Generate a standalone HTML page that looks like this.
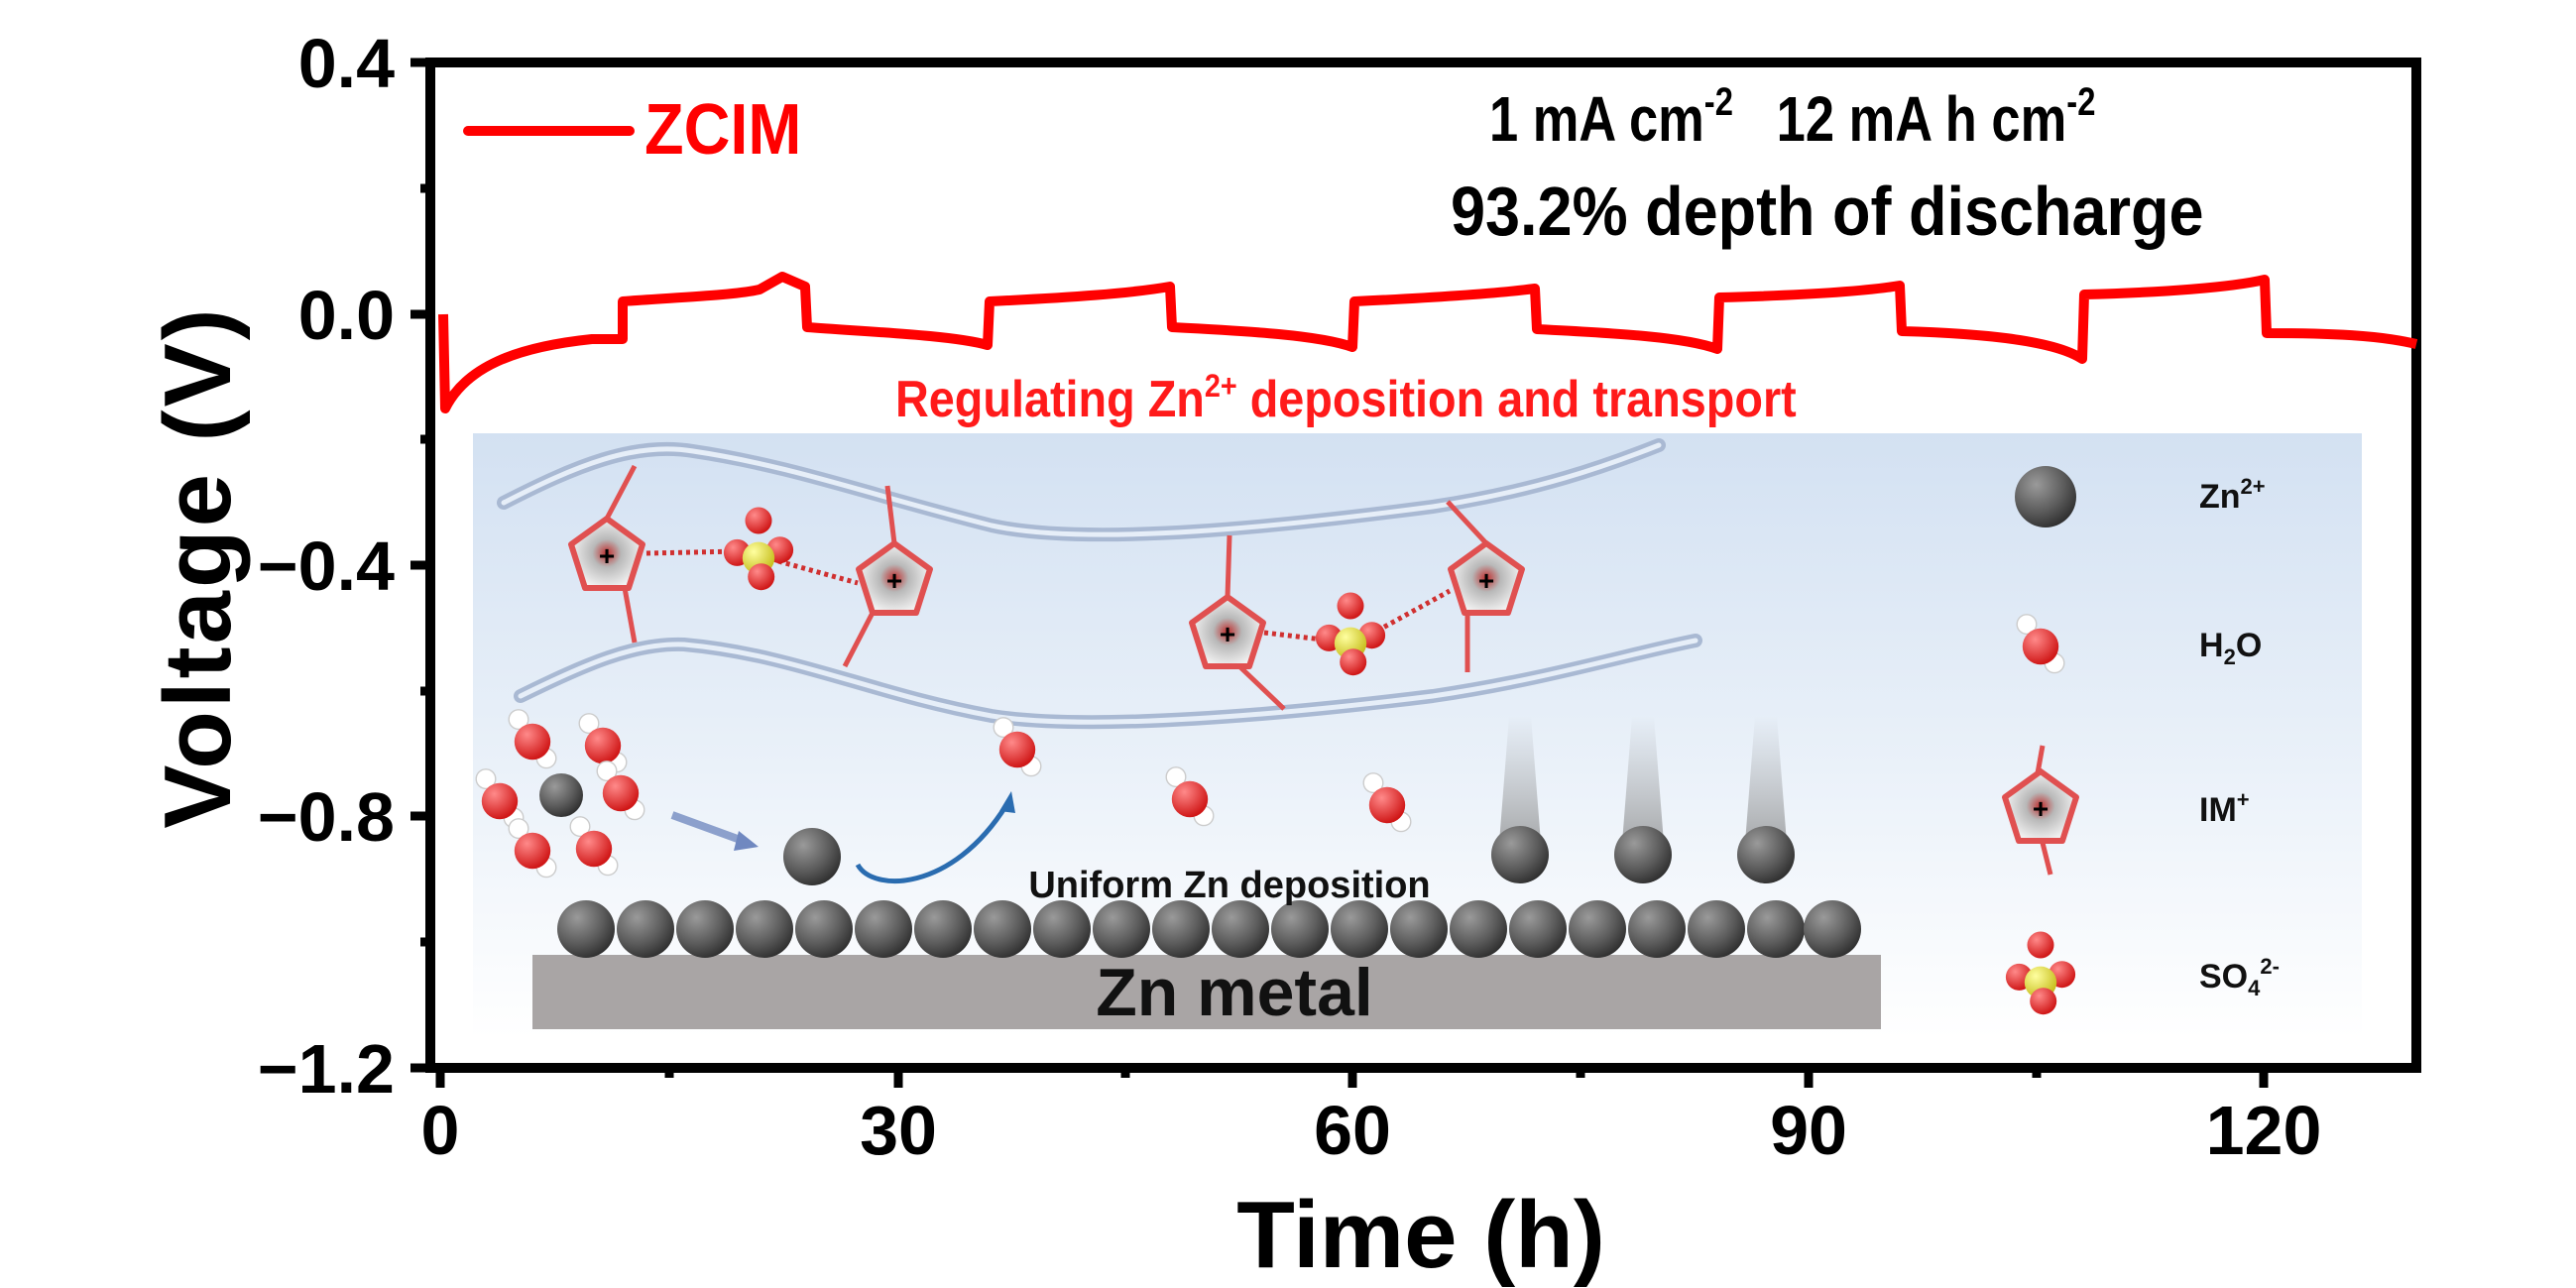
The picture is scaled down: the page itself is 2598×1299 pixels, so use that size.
<!DOCTYPE html>
<html><head><meta charset="utf-8"><style>
html,body{margin:0;padding:0;background:#fff;}
svg{display:block;}
text{font-family:"Liberation Sans",Arial,sans-serif;font-weight:bold;}
</style></head><body>
<svg width="2598" height="1299" viewBox="0 0 2598 1299" xmlns="http://www.w3.org/2000/svg">
<defs>
<linearGradient id="bg" x1="0" y1="0" x2="0" y2="1">
<stop offset="0" stop-color="#d3e1f2"/><stop offset="0.55" stop-color="#eaf1f9"/><stop offset="1" stop-color="#ffffff"/>
</linearGradient>
<radialGradient id="zn" cx="0.35" cy="0.3" r="0.75">
<stop offset="0" stop-color="#9a9a9a"/><stop offset="0.6" stop-color="#5c5c5c"/><stop offset="1" stop-color="#2e2e2e"/>
</radialGradient>
<radialGradient id="ox" cx="0.35" cy="0.3" r="0.7">
<stop offset="0" stop-color="#ff8a8a"/><stop offset="1" stop-color="#d01818"/>
</radialGradient>
<radialGradient id="su" cx="0.35" cy="0.3" r="0.7">
<stop offset="0" stop-color="#ffffa0"/><stop offset="1" stop-color="#c8c020"/>
</radialGradient>
<radialGradient id="ring" cx="0.5" cy="0.5" r="0.5">
<stop offset="0" stop-color="#c03030"/><stop offset="0.4" stop-color="#b8b8b8"/><stop offset="1" stop-color="#f0f0f0"/>
</radialGradient>
<linearGradient id="streak" x1="0" y1="0" x2="0" y2="1">
<stop offset="0" stop-color="#888" stop-opacity="0"/><stop offset="1" stop-color="#777" stop-opacity="0.6"/>
</linearGradient>
<g id="zb"><circle r="29" fill="url(#zn)"/></g>
<g id="h2o"><g transform="scale(1.4)"><circle cx="-10" cy="-16" r="7" fill="#fff" stroke="#ccc" stroke-width="1"/><circle cx="10" cy="12" r="7" fill="#fff" stroke="#ccc" stroke-width="1"/><circle r="13" fill="url(#ox)"/></g></g>
<g id="so4"><g transform="scale(1.35)"><circle cx="0" cy="-20" r="10" fill="url(#ox)"/><circle cx="-16" cy="4" r="10" fill="url(#ox)"/><circle cx="16" cy="2" r="10" fill="url(#ox)"/><circle cx="0" cy="8" r="12" fill="url(#su)"/><circle cx="2" cy="22" r="10" fill="url(#ox)"/></g></g>
<g id="im"><polygon points="0,-38 36,-12 22,32 -22,32 -36,-12" fill="url(#ring)" stroke="#e05050" stroke-width="6" stroke-linejoin="round"/><text x="0" y="9" font-size="28" text-anchor="middle" fill="#000">+</text></g>
</defs>

<rect x="477" y="437" width="1905" height="610" fill="url(#bg)"/>
<g fill="none" stroke-linecap="round">
<path d="M508,507 C580,470 640,445 699,455 C800,470 880,500 1000,530 C1100,552 1300,530 1445,511 C1550,495 1620,470 1673,449" stroke="#a9b9d3" stroke-width="14"/>
<path d="M508,507 C580,470 640,445 699,455 C800,470 880,500 1000,530 C1100,552 1300,530 1445,511 C1550,495 1620,470 1673,449" stroke="#e6eef8" stroke-width="5"/>
<path d="M525,702 C590,670 640,648 690,650 C800,660 880,700 1000,722 C1100,738 1300,720 1445,702 C1560,685 1640,660 1710,646" stroke="#a9b9d3" stroke-width="14"/>
<path d="M525,702 C590,670 640,648 690,650 C800,660 880,700 1000,722 C1100,738 1300,720 1445,702 C1560,685 1640,660 1710,646" stroke="#e6eef8" stroke-width="5"/>
</g>
<g stroke="#d03030" stroke-width="5" stroke-dasharray="4 4">
<line x1="652" y1="558" x2="745" y2="556"/><line x1="785" y1="566" x2="865" y2="588"/>
<line x1="1275" y1="638" x2="1342" y2="646"/><line x1="1382" y1="640" x2="1462" y2="596"/>
</g>
<g stroke="#e05050" stroke-width="5">
<line x1="612" y1="523" x2="640" y2="470"/><line x1="630" y1="593" x2="640" y2="648"/>
<line x1="902" y1="548" x2="895" y2="490"/><line x1="880" y1="618" x2="852" y2="672"/>
<line x1="1238" y1="602" x2="1240" y2="540"/><line x1="1250" y1="672" x2="1295" y2="715"/>
<line x1="1499" y1="548" x2="1460" y2="506"/><line x1="1480" y1="618" x2="1480" y2="678"/>
</g>
<use href="#im" x="612" y="561"/><use href="#im" x="902" y="586"/><use href="#im" x="1238" y="640"/><use href="#im" x="1499" y="586"/>
<use href="#so4" x="765" y="552"/><use href="#so4" x="1362" y="638"/>
<use href="#h2o" x="537" y="748"/><use href="#h2o" x="608" y="752"/><use href="#h2o" x="504" y="808"/><use href="#h2o" x="626" y="800"/><use href="#h2o" x="537" y="858"/><use href="#h2o" x="599" y="856"/>
<circle cx="566" cy="802" r="22" fill="url(#zn)"/>
<use href="#h2o" x="1026" y="756"/><use href="#h2o" x="1200" y="806"/><use href="#h2o" x="1399" y="812"/>
<path d="M678,822 L752,849" stroke="#8ca0cc" stroke-width="8" fill="none"/>
<polygon points="765,854 745,838 740,858" fill="#7088c0"/>
<use href="#zb" x="819" y="864"/>
<path d="M865,872 C880,900 960,900 1015,812" stroke="#2a6cb0" stroke-width="5" fill="none"/>
<polygon points="1020,798 1008,818 1024,820" fill="#2a6cb0"/>
<path d="M1512,850 L1522,722 L1544,722 L1554,850 Z" fill="url(#streak)"/>
<path d="M1636,850 L1646,722 L1668,722 L1678,850 Z" fill="url(#streak)"/>
<path d="M1760,850 L1770,722 L1792,722 L1802,850 Z" fill="url(#streak)"/>
<use href="#zb" x="1533" y="862"/><use href="#zb" x="1657" y="862"/><use href="#zb" x="1781" y="862"/>
<rect x="537" y="963" width="1360" height="75" fill="#a9a5a5"/>
<g>
<use href="#zb" x="591" y="937"/><use href="#zb" x="651" y="937"/><use href="#zb" x="711" y="937"/><use href="#zb" x="771" y="937"/><use href="#zb" x="831" y="937"/><use href="#zb" x="891" y="937"/><use href="#zb" x="951" y="937"/><use href="#zb" x="1011" y="937"/><use href="#zb" x="1071" y="937"/><use href="#zb" x="1131" y="937"/><use href="#zb" x="1191" y="937"/><use href="#zb" x="1251" y="937"/><use href="#zb" x="1311" y="937"/><use href="#zb" x="1371" y="937"/><use href="#zb" x="1431" y="937"/><use href="#zb" x="1491" y="937"/><use href="#zb" x="1551" y="937"/><use href="#zb" x="1611" y="937"/><use href="#zb" x="1671" y="937"/><use href="#zb" x="1731" y="937"/><use href="#zb" x="1791" y="937"/><use href="#zb" x="1848" y="937"/>
</g>
<text x="1245" y="1024" font-size="68" text-anchor="middle" fill="#111">Zn metal</text>
<text x="1240" y="905" font-size="38" text-anchor="middle" fill="#111">Uniform Zn deposition</text>
<circle cx="2063" cy="501" r="31" fill="url(#zn)"/>
<use href="#h2o" x="2058" y="652"/>
<line x1="2055" y1="780" x2="2060" y2="752" stroke="#e05050" stroke-width="5"/><line x1="2060" y1="850" x2="2068" y2="882" stroke="#e05050" stroke-width="5"/>
<use href="#im" x="2058" y="816"/>
<use href="#so4" x="2058" y="980"/>
<g font-size="34" fill="#111">
<text x="2218" y="512">Zn<tspan font-size="22" dy="-14">2+</tspan></text>
<text x="2218" y="662">H<tspan font-size="22" dy="8">2</tspan><tspan dy="-8">O</tspan></text>
<text x="2218" y="828">IM<tspan font-size="22" dy="-14">+</tspan></text>
<text x="2218" y="996">SO<tspan font-size="22" dy="8">4</tspan><tspan font-size="22" dy="-22">2-</tspan></text>
</g>

<rect x="434" y="63" width="2003" height="1014" fill="none" stroke="#000" stroke-width="10"/>
<g stroke="#000" stroke-width="9">
<line x1="414" y1="63" x2="434" y2="63"/><line x1="414" y1="317" x2="434" y2="317"/><line x1="414" y1="570" x2="434" y2="570"/><line x1="414" y1="823" x2="434" y2="823"/><line x1="414" y1="1077" x2="434" y2="1077"/>
<line x1="424" y1="190" x2="434" y2="190"/><line x1="424" y1="443" x2="434" y2="443"/><line x1="424" y1="697" x2="434" y2="697"/><line x1="424" y1="950" x2="434" y2="950"/>
<line x1="444" y1="1077" x2="444" y2="1097"/><line x1="906" y1="1077" x2="906" y2="1097"/><line x1="1364" y1="1077" x2="1364" y2="1097"/><line x1="1824" y1="1077" x2="1824" y2="1097"/><line x1="2283" y1="1077" x2="2283" y2="1097"/>
<line x1="675" y1="1077" x2="675" y2="1087"/><line x1="1135" y1="1077" x2="1135" y2="1087"/><line x1="1594" y1="1077" x2="1594" y2="1087"/><line x1="2054" y1="1077" x2="2054" y2="1087"/>
</g>
<g font-size="70" fill="#000" text-anchor="end">
<text x="398" y="88">0.4</text><text x="398" y="342">0.0</text><text x="398" y="595">−0.4</text><text x="398" y="848">−0.8</text><text x="398" y="1102">−1.2</text>
</g>
<g font-size="70" fill="#000" text-anchor="middle">
<text x="444" y="1164">0</text><text x="906" y="1164">30</text><text x="1364" y="1164">60</text><text x="1824" y="1164">90</text><text x="2283" y="1164">120</text>
</g>
<text x="1433" y="1278" font-size="96" text-anchor="middle" fill="#000">Time (h)</text>
<text transform="translate(232,572) rotate(-90)" font-size="96" text-anchor="middle" fill="#000" letter-spacing="3">Voltage (V)</text>

<path fill="none" stroke="#ff0000" stroke-width="10" stroke-linejoin="round" d="
M447,317 L449,412 C470,370 520,350 597,342 L628,342
L628,304 C680,300 740,298 766,292 L789,279 L812,289
L814,330 C880,335 960,338 996,348
L998,304 C1080,300 1140,296 1180,289
L1182,330 C1260,334 1330,338 1364,350
L1366,304 C1450,300 1510,296 1548,291
L1550,332 C1630,336 1700,340 1732,352
L1734,300 C1810,298 1880,294 1916,288
L1918,334 C1990,336 2070,342 2100,362
L2102,297 C2180,295 2250,290 2284,282
L2286,336 C2350,336 2400,338 2437,347"/>

<line x1="472" y1="132" x2="635" y2="132" stroke="#ff0000" stroke-width="10" stroke-linecap="round"/>
<text x="650" y="155" font-size="72" fill="#ff0000" transform="translate(650,0) scale(0.9,1) translate(-650,0)">ZCIM</text>
<g fill="#000">
<text x="1502" y="142" font-size="64" transform="translate(1502,0) scale(0.82,1) translate(-1502,0)">1 mA cm<tspan font-size="40" dy="-26">-2</tspan><tspan dy="26" xml:space="preserve">   12 mA h cm</tspan><tspan font-size="40" dy="-26">-2</tspan></text>
<text x="1463" y="237" font-size="70" transform="translate(1463,0) scale(0.9,1) translate(-1463,0)">93.2% depth of discharge</text>
</g>
<text x="903" y="420" font-size="52" fill="#ff1a1a" transform="translate(903,0) scale(0.9,1) translate(-903,0)">Regulating Zn<tspan font-size="32" dy="-20">2+</tspan><tspan dy="20"> deposition and transport</tspan></text>
</svg>
</body></html>
